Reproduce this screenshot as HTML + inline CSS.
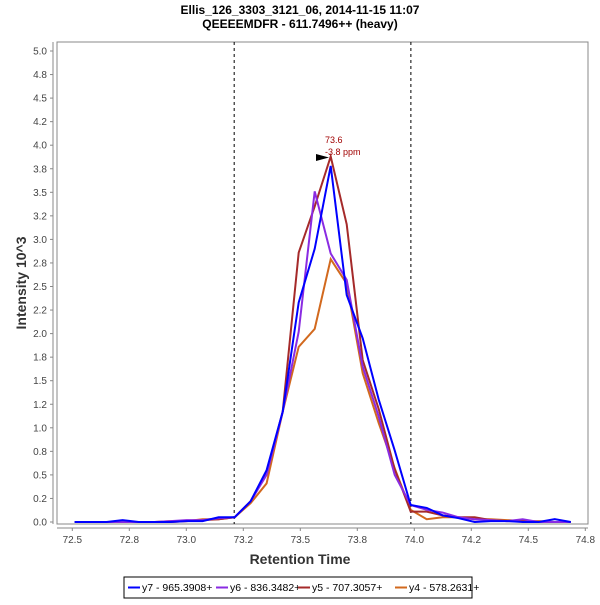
<!DOCTYPE html>
<html><head><meta charset="utf-8"><style>
body{margin:0;background:#fff;width:600px;height:600px;overflow:hidden;font-family:"Liberation Sans",sans-serif}
svg text{font-family:"Liberation Sans",sans-serif}
</style></head><body>
<svg id="chart" width="600" height="600">
<text x="300" y="14" text-anchor="middle" font-size="12" font-weight="bold">Ellis_126_3303_3121_06, 2014-11-15 11:07</text>
<text x="300" y="28" text-anchor="middle" font-size="12" font-weight="bold">QEEEEMDFR - 611.7496++ (heavy)</text>
<rect x="57" y="42" width="531" height="482" fill="#fff" stroke="#888"/>
<g id="grid"></g>
<g id="axes"></g>
<g id="series"></g>
<text x="325" y="143" font-size="9" fill="#a00000">73.6</text>
<text x="325" y="155" font-size="9" fill="#a00000">-3.8 ppm</text>
<polygon points="316,154 329,157.5 316,161" fill="#000"/>
<text x="300" y="564" text-anchor="middle" font-size="14" font-weight="bold" fill="#333">Retention Time</text>
<text transform="translate(26,283) rotate(-90)" text-anchor="middle" font-size="14" font-weight="bold" fill="#333">Intensity 10^3</text>
<g>
<rect x="124" y="577" width="348" height="21" fill="#fff" stroke="#000"/>
<line x1="128" y1="587.5" x2="140" y2="587.5" stroke="#0000ff" stroke-width="2"/>
<text x="142" y="591" font-size="10.5">y7 - 965.3908+</text>
<line x1="216" y1="587.5" x2="228" y2="587.5" stroke="#8a2be2" stroke-width="2"/>
<text x="230" y="591" font-size="10.5">y6 - 836.3482+</text>
<line x1="298" y1="587.5" x2="310" y2="587.5" stroke="#a52a2a" stroke-width="2"/>
<text x="312" y="591" font-size="10.5">y5 - 707.3057+</text>
<line x1="395" y1="587.5" x2="407" y2="587.5" stroke="#d2691e" stroke-width="2"/>
<text x="409" y="591" font-size="10.5">y4 - 578.2631+</text>
</g>
</svg>
<script>
const startTime = 72.51;
const timeStep = 0.0702;
const y7 = [0,0,0,0.02,0,0,0,0.01,0.01,0.05,0.05,0.22,0.55,1.17,2.33,2.9,3.78,2.41,1.95,1.3,0.76,0.18,0.15,0.07,0.04,0,0.01,0.01,0,0,0.03,0];
const y6 = [0,0,0,0,0,0,0.01,0.02,0.02,0.04,0.05,0.22,0.5,1.17,2.02,3.51,2.85,2.57,1.65,1.12,0.5,0.18,0.13,0.1,0.05,0.03,0.02,0.01,0.03,0,0,0];
const y5 = [0,0,0,0,0,0,0,0.01,0.02,0.03,0.05,0.22,0.52,1.17,2.86,3.35,3.88,3.16,1.72,1.2,0.56,0.11,0.11,0.07,0.05,0.05,0.02,0.01,0.01,0,0,0];
const y4 = [0,0,0,0,0,0,0.01,0.01,0.03,0.03,0.05,0.2,0.41,1.17,1.86,2.05,2.79,2.53,1.58,1.05,0.57,0.13,0.03,0.05,0.05,0.03,0.03,0.02,0.01,0.01,0,0];
const xTicks = [72.5,72.75,73.0,73.25,73.5,73.75,74.0,74.25,74.5,74.75];
const yTicks = [0,0.25,0.5,0.75,1,1.25,1.5,1.75,2,2.25,2.5,2.75,3,3.25,3.5,3.75,4,4.25,4.5,4.75,5];
const boundaries = [73.21, 73.985];
const NS='http://www.w3.org/2000/svg';
function xs(v){return 72.3+(v-72.5)*228;}
function ys(v){return 522-v*94.2;}
function fmt(v){const s=v*10;const f=Math.floor(s);const d=s-f;let r;if(Math.abs(d-0.5)<1e-9){r=(f%2===0)?f:f+1;}else r=Math.round(s);return (r/10).toFixed(1);}
function mk(tag,attrs,parent){const e=document.createElementNS(NS,tag);for(const k in attrs)e.setAttribute(k,attrs[k]);parent.appendChild(e);return e;}
const axes=document.getElementById('axes');
const yAxis=mk('line',{x1:53,y1:42,x2:53,y2:524,stroke:'#888'},axes);


const xAxis=mk('line',{x1:57,y1:528,x2:588,y2:528,stroke:'#888'},axes);


yTicks.forEach(v=>{
  const y=ys(v);
  mk('line',{x1:50,y1:y,x2:53,y2:y,stroke:'#888'},axes);
  const t=mk('text',{x:47,y:y+3.5,'text-anchor':'end','font-size':10,fill:'#444'},axes);
  t.textContent=fmt(v);
  
  
});
xTicks.forEach(v=>{
  const x=xs(v);
  mk('line',{x1:x,y1:528,x2:x,y2:531,stroke:'#888'},axes);
  const t=mk('text',{x:x,y:543,'text-anchor':'middle','font-size':10,fill:'#444'},axes);
  t.textContent=fmt(v);
  
  
});
const grid=document.getElementById('grid');
boundaries.forEach(b=>{
  const l=mk('line',{x1:xs(b),y1:42,x2:xs(b),y2:524,stroke:'#000','stroke-dasharray':'3,3','stroke-width':1},grid);
  
  
});
const ser=document.getElementById('series');
[[y4,'#d2691e','series-y4'],[y5,'#a52a2a','series-y5'],[y6,'#8a2be2','series-y6'],[y7,'#0000ff','series-y7']].forEach(([d,c,n])=>{
  const pts=d.map((v,i)=>xs(startTime+i*timeStep).toFixed(1)+','+ys(v).toFixed(1)).join(' ');
  const p=mk('polyline',{points:pts,fill:'none',stroke:c,'stroke-width':2,'stroke-linejoin':'miter'},ser);
  
  
});
</script>
</body></html>
